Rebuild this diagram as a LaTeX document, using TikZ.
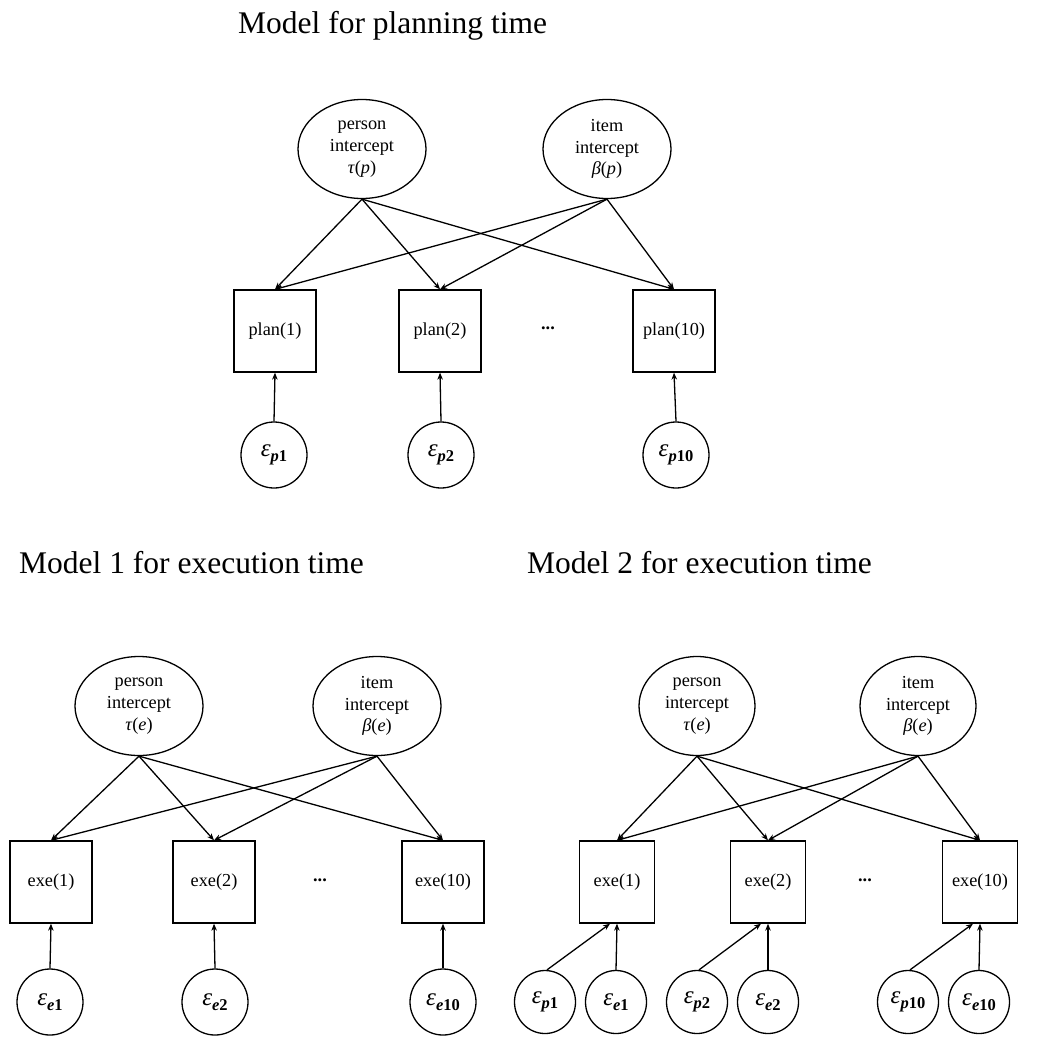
\documentclass[tikz,border=0pt]{standalone}
\usepackage{fontspec}
\setmainfont{Liberation Serif}
\usetikzlibrary{arrows.meta,shapes.geometric}

% error term: italic epsilon with a heavier subscript
\newcommand{\errlab}[2]{\textit{ε}\raisebox{-4.5pt}{\fontsize{16.5}{16.5}\selectfont\bfseries\textit{#1}#2}}
% latent factor symbol: italic letter with its argument
\newcommand{\facsym}[2]{\textit{#1}(\textit{#2})}

\tikzset{
  every picture/.style={x=1pt,y=-1pt},
  wire/.style={line width=1.3pt},
  arr/.style={wire,-{Stealth[length=7pt,width=5.5pt]}},
  latent/.style={ellipse,draw,line width=1.3pt,inner sep=0pt,align=center,
    minimum width=128pt,minimum height=99pt,
    font=\fontsize{18.3}{21.7}\selectfont},
  latentn/.style={latent,minimum width=116pt},
  obs/.style={rectangle,draw,line width=1.3pt,inner sep=0pt,
    minimum width=82pt,minimum height=82pt,
    font=\fontsize{18.3}{21.7}\selectfont},
  obsn/.style={obs,minimum width=75pt},
  err/.style={ellipse,draw,line width=1.3pt,inner sep=0pt,
    minimum width=66pt,minimum height=66pt,
    font=\fontsize{25}{28}\selectfont},
  errn/.style={err,minimum width=61pt,minimum height=63pt},
  ttl/.style={anchor=base west,inner sep=0pt,font=\fontsize{31.5}{36}\selectfont},
  gap/.style={inner sep=0pt,font=\fontsize{18.3}{21.7}\selectfont\bfseries}
}

\begin{document}
\begin{tikzpicture}
\useasboundingbox (0,0) rectangle (1064,1036);

% ---------------- planning time ----------------
\node[ttl] (t1) at (238,33) {Model for planning time};

\node[latent] (pp) at (362,149) {person\\intercept\\\facsym{τ}{p}};
\node[latent] (ip) at (607,149) {item\\intercept\\\facsym{β}{p}};

\node[obs] (pl1)  at (275,331) {plan(1)};
\node[obs] (pl2)  at (440,331) {plan(2)};
\node[obs] (pl10) at (674,331) {plan(10)};
\node[gap] (d1) at (548,328) {...};

\node[err] (ep1)  at (274,455) {\errlab{p}{1}};
\node[err] (ep2)  at (441,455) {\errlab{p}{2}};
\node[err] (ep10) at (676,455) {\errlab{p}{10}};

\foreach \b in {pl1,pl2,pl10} {
  \draw[arr] (pp.south) -- (\b.north);
  \draw[arr] (ip.south) -- (\b.north);
}
\draw[arr] (ep1.north)  -- (pl1.south);
\draw[arr] (ep2.north)  -- (pl2.south);
\draw[arr] (ep10.north) -- (pl10.south);

% ---------------- execution time, model 1 ----------------
\node[ttl] (t2) at (19,573) {Model 1 for execution time};

\node[latent] (pa) at (139,706) {person\\intercept\\\facsym{τ}{e}};
\node[latent] (ia) at (377,706) {item\\intercept\\\facsym{β}{e}};

\node[obs] (xa1)  at (51,882)  {exe(1)};
\node[obs] (xa2)  at (214,882) {exe(2)};
\node[obs] (xa10) at (443,882) {exe(10)};
\node[gap] (d2) at (320,880) {...};

\node[err] (ea1)  at (50,1002)  {\errlab{e}{1}};
\node[err] (ea2)  at (215,1002) {\errlab{e}{2}};
\node[err] (ea10) at (443,1002) {\errlab{e}{10}};

\foreach \b in {xa1,xa2,xa10} {
  \draw[arr] (pa.south) -- (\b.north);
  \draw[arr] (ia.south) -- (\b.north);
}
\draw[arr] (ea1.north)  -- (xa1.south);
\draw[arr] (ea2.north)  -- (xa2.south);
\draw[arr] (ea10.north) -- (xa10.south);

% ---------------- execution time, model 2 ----------------
\node[ttl] (t3) at (527,573) {Model 2 for execution time};

\node[latentn] (pb) at (697,706) {person\\intercept\\\facsym{τ}{e}};
\node[latentn] (ib) at (918,706) {item\\intercept\\\facsym{β}{e}};

\node[obsn] (xb1)  at (617,882) {exe(1)};
\node[obsn] (xb2)  at (768,882) {exe(2)};
\node[obsn] (xb10) at (980,882) {exe(10)};
\node[gap] (d3) at (865,880) {...};

\node[errn] (fp1)  at (545,1002) {\errlab{p}{1}};
\node[errn] (fe1)  at (616,1002) {\errlab{e}{1}};
\node[errn] (fp2)  at (697,1002) {\errlab{p}{2}};
\node[errn] (fe2)  at (768,1002) {\errlab{e}{2}};
\node[errn] (fp10) at (908,1002) {\errlab{p}{10}};
\node[errn] (fe10) at (979,1002) {\errlab{e}{10}};

\foreach \b in {xb1,xb2,xb10} {
  \draw[arr] (pb.south) -- (\b.north);
  \draw[arr] (ib.south) -- (\b.north);
}
\draw[arr] ([xshift=2pt]fp1.north)  -- ([xshift=-7pt]xb1.south);
\draw[arr] ([xshift=2pt]fp2.north)  -- ([xshift=-7pt]xb2.south);
\draw[arr] ([xshift=2pt]fp10.north) -- ([xshift=-7pt]xb10.south);
\draw[arr] (fe1.north)  -- (xb1.south);
\draw[arr] (fe2.north)  -- (xb2.south);
\draw[arr] (fe10.north) -- (xb10.south);
\end{tikzpicture}
\end{document}
